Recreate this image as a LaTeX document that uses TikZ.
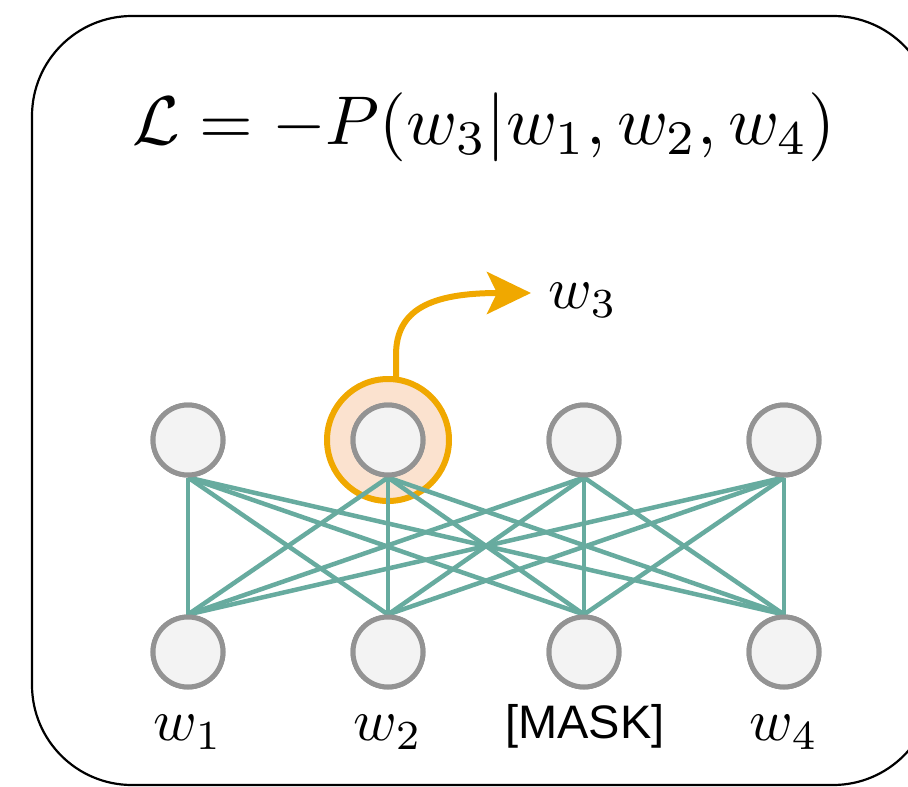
\documentclass[tikz,border=0pt]{standalone}
\usepackage{fontspec}
\newfontfamily\helv{Liberation Sans}
\usetikzlibrary{arrows.meta}
\definecolor{teal1}{HTML}{67AB9F}
\definecolor{gstroke}{HTML}{939393}
\definecolor{gfill}{HTML}{F3F3F3}
\definecolor{orng}{HTML}{F0A800}
\definecolor{peach}{HTML}{FBE2CF}
\tikzset{
  unit/.style={circle, draw=gstroke, fill=gfill, line width=5pt, minimum size=70pt, inner sep=0pt},
  link/.style={draw=teal1, line width=4.5pt},
  wlabel/.style={scale=5.9, inner sep=0pt},
}
\begin{document}
\begin{tikzpicture}[x=1pt,y=1pt]
\useasboundingbox (0,0) rectangle (908,-787);
\clip (0,0) rectangle (908,-787);
\draw[line width=2.2pt, rounded corners=100pt] (32,-16) rectangle (933,-785);
\node[scale=6.9, inner sep=0pt] (loss) at (484,-127) {$\mathcal{L} = -P(w_3|w_1,w_2,w_4)$};
% highlighted ring
\node[circle, draw=orng, fill=peach, line width=6pt, minimum size=122pt, inner sep=0pt] (ring) at (388,-440) {};
% units
\foreach \i/\x in {1/188,2/388,3/584,4/784}{
  \node[unit] (t\i) at (\x,-440) {};
  \node[unit] (b\i) at (\x,-652) {};
}
\foreach \i in {1,...,4}{
  \foreach \j in {1,...,4}{
    \draw[link] (t\i.south) -- (b\j.north);
  }
}
\foreach \i/\x in {1/188,2/388,3/584,4/784}{
  \node[unit] at (\x,-440) {};
  \node[unit] at (\x,-652) {};
}
% output arrow
\node[wlabel] (out) at (583,-300) {$w_3$};
\coordinate (arrtip) at (531,-293);
\draw[draw=orng, line width=6pt, -{Stealth[length=44pt,width=42pt,inset=10pt]}]
  (396,-378) -- (396,-355) .. controls (396,-310) and (430,-293) .. (arrtip);
% labels
\node[wlabel] (l1) at (188,-732) {$w_1$};
\node[wlabel] (l2) at (388,-732) {$w_2$};
\node[scale=4.7, inner sep=0pt] (l3) at (585,-726) {\helv [MASK]};
\node[wlabel] (l4) at (784,-732) {$w_4$};
\end{tikzpicture}
\end{document}
